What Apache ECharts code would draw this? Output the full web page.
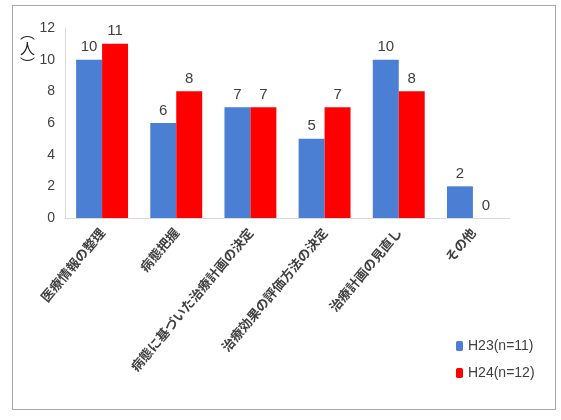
<!DOCTYPE html>
<html>
<head>
<meta charset="utf-8">
<script src="https://cdn.jsdelivr.net/npm/echarts@6/dist/echarts.min.js"></script>
<style>
html,body{margin:0;padding:0;background:#fff;}
#frame{position:absolute;left:12px;top:5px;width:544px;height:405px;border:1px solid #a6a6a6;box-sizing:border-box;}
#main{position:absolute;left:0;top:0;width:561px;height:420px;}
</style>
</head>
<body>
<div id="frame"></div>
<div id="main"></div>
<script>
var categories = ['医療情報の整理', '病態把握', '病態に基づいた治療計画の決定', '治療効果の評価方法の決定', '治療計画の見直し', 'その他'];
var h23 = [10, 6, 7, 5, 10, 2];
var h24 = [11, 8, 7, 7, 8, 0];
var seriesNames = ['H23(n=11)', 'H24(n=12)'];
var yTicks = [0, 2, 4, 6, 8, 10, 12];

var myChart = echarts.init(document.getElementById('main'));
var labelStyle = {
    show: true,
    position: 'top',
    color: '#404040',
    fontSize: 15,
    fontFamily: 'Liberation Sans'
};
var option = {
    animation: false,
    grid: {left: 65, right: 51, top: 28, bottom: 202, containLabel: false},
    legend: {
        orient: 'vertical',
        left: 451,
        top: 334,
        itemWidth: 7,
        itemHeight: 10,
        itemGap: 13,
        data: seriesNames,
        textStyle: {color: '#404040', fontSize: 14, fontFamily: 'Liberation Sans'}
    },
    graphic: [{
        type: 'text',
        left: 20,
        top: 24,
        style: {text: '︵\n人\n︶', fill: '#222', fontSize: 15, lineHeight: 16, fontFamily: 'Noto Sans CJK JP'}
    }],
    xAxis: {
        type: 'category',
        data: categories,
        axisLine: {lineStyle: {color: '#d9d9d9'}},
        axisTick: {show: false},
        axisLabel: {
            interval: 0,
            rotate: 50,
            margin: 12,
            color: '#404040',
            fontSize: 13,
            fontWeight: 'bold',
            fontFamily: 'Noto Sans CJK JP'
        }
    },
    yAxis: {
        type: 'value',
        min: yTicks[0],
        max: yTicks[yTicks.length - 1],
        interval: 2,
        axisLine: {show: true, lineStyle: {color: '#d9d9d9'}},
        axisTick: {show: false},
        splitLine: {show: false},
        axisLabel: {color: '#404040', fontSize: 14, margin: 10, fontFamily: 'Liberation Sans'}
    },
    series: [
        {name: seriesNames[0], type: 'bar', data: h23, barGap: '0%', barCategoryGap: '30%',
         itemStyle: {color: '#4a7fd4'}, label: labelStyle},
        {name: seriesNames[1], type: 'bar', data: h24,
         itemStyle: {color: '#ff0000'}, label: labelStyle}
    ]
};
myChart.setOption(option);
</script>
</body>
</html>
